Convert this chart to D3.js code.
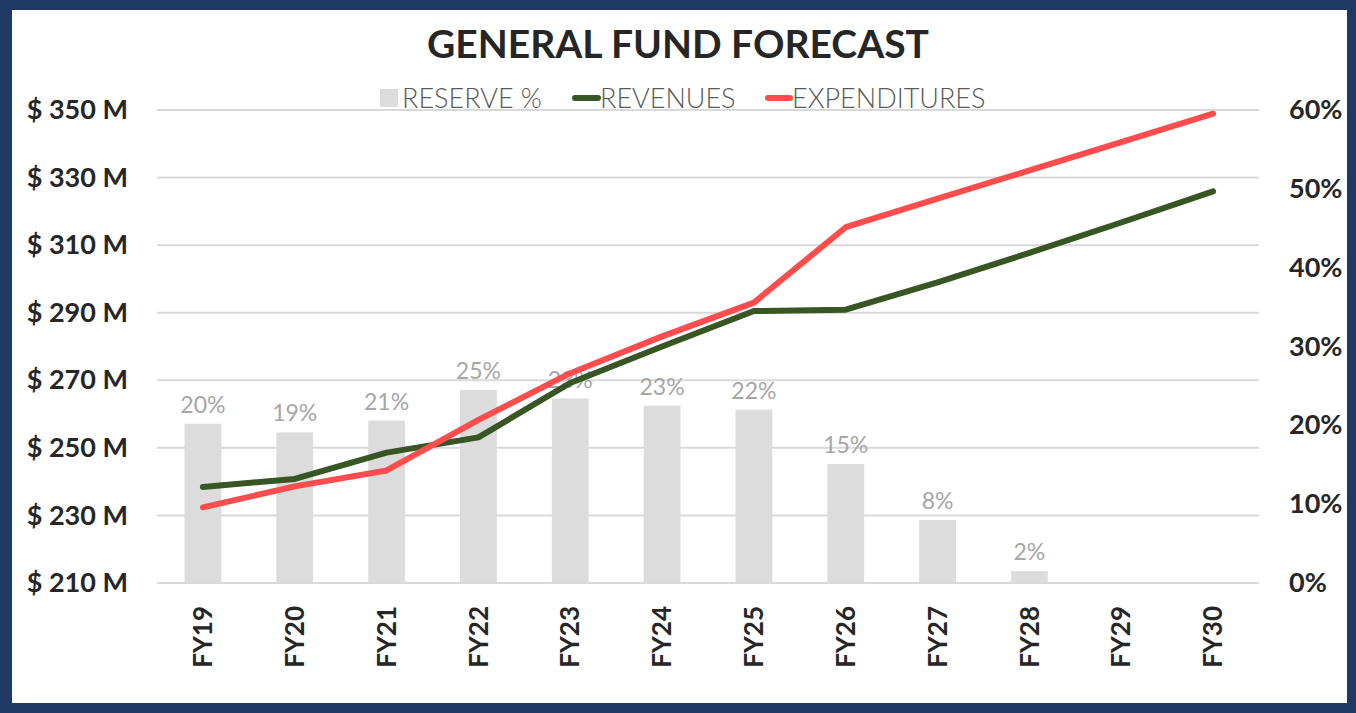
<!DOCTYPE html>
<html lang="en">
<head>
    <meta charset="UTF-8">
    <title>General Fund Forecast</title>
    <script src="https://d3js.org/d3.v7.min.js"></script>
    <style>
        body {
            margin: 0;
            background: #1f3864;
            font-family: Lato, "Open Sans", sans-serif;
        }
        text {
            font-family: Lato, "Open Sans", sans-serif;
        }
        .grid line {
            stroke: #d9d9d9;
            stroke-width: 2;
        }
        .axis text {
            fill: #262626;
            font-size: 26px;
            font-weight: 700;
        }
        .axis.y text {
            font-size: 27px;
        }
        .bar {
            fill: #dcdcdc;
        }
        .bar-label {
            fill: #a6a6a6;
            font-size: 23px;
        }
        .legend text {
            fill: #595959;
            font-size: 27px;
            font-weight: 300;
        }
    </style>
</head>
<body>
    <div id="chart"></div>

    <script>
        // data
        const years = ["FY19", "FY20", "FY21", "FY22", "FY23", "FY24", "FY25", "FY26", "FY27", "FY28", "FY29", "FY30"];
        const reserve = [0.202, 0.191, 0.206, 0.245, 0.234, 0.225, 0.220, 0.151, 0.080, 0.015, null, null];
        const revenues = [238.4, 240.8, 248.6, 253.1, 269.2, 280.0, 290.5, 290.9, 299.0, 307.7, 316.7, 325.9];
        const expenditures = [232.4, 238.6, 243.3, 258.3, 272.1, 283.0, 293.0, 315.3, 323.8, 332.1, 340.5, 348.9];
        const leftTicks = [210, 230, 250, 270, 290, 310, 330, 350];
        const rightTicks = [0, 0.1, 0.2, 0.3, 0.4, 0.5, 0.6];

        const W = 1356, H = 713;
        const svg = d3.select("#chart").append("svg")
            .attr("width", W)
            .attr("height", H);

        // navy frame
        svg.append("rect").attr("width", W).attr("height", H).attr("fill", "#1f3864");
        svg.append("rect")
            .attr("x", 12).attr("y", 10)
            .attr("width", W - 12 - 9).attr("height", H - 10 - 10)
            .attr("fill", "#ffffff");

        const plot = { left: 157, right: 1259, top: 110, bottom: 583 };

        const x = d3.scaleBand()
            .domain(years)
            .range([plot.left, plot.right])
            .paddingInner(0.6)
            .paddingOuter(0.3);

        const yL = d3.scaleLinear().domain([210, 350]).range([plot.bottom, plot.top]);
        const yR = d3.scaleLinear().domain([0, 0.6]).range([plot.bottom, plot.top]);

        // title
        svg.append("text")
            .attr("x", 678).attr("y", 58)
            .attr("text-anchor", "middle")
            .attr("fill", "#262626")
            .style("font-size", "39px")
            .style("font-weight", "700")
            .text("GENERAL FUND FORECAST");

        // gridlines
        svg.append("g")
            .attr("class", "grid")
            .selectAll("line")
            .data(leftTicks)
            .enter().append("line")
            .attr("x1", plot.left).attr("x2", plot.right)
            .attr("y1", d => yL(d)).attr("y2", d => yL(d));

        // left axis
        const gl = svg.append("g")
            .attr("class", "axis y")
            .attr("transform", `translate(${plot.left},0)`)
            .call(d3.axisLeft(yL).tickValues(leftTicks).tickSize(0).tickPadding(29).tickFormat(d => `$ ${d} M`));
        gl.select(".domain").remove();

        // right axis
        const gr = svg.append("g")
            .attr("class", "axis y")
            .attr("transform", `translate(${plot.right},0)`)
            .call(d3.axisRight(yR).tickValues(rightTicks).tickSize(0).tickPadding(30).tickFormat(d3.format(".0%")));
        gr.select(".domain").remove();

        // bottom axis, rotated labels
        const gb = svg.append("g")
            .attr("class", "axis")
            .attr("transform", `translate(0,${plot.bottom})`)
            .call(d3.axisBottom(x).tickSize(0));
        gb.select(".domain").remove();
        gb.selectAll("text")
            .attr("transform", "rotate(-90)")
            .attr("text-anchor", "end")
            .attr("x", -23)
            .attr("y", 0)
            .attr("dy", "0.35em");

        // reserve bars
        const barData = years.map((d, i) => ({ year: d, v: reserve[i] })).filter(d => d.v !== null);

        svg.selectAll(".bar")
            .data(barData)
            .enter().append("rect")
            .attr("class", "bar")
            .attr("x", d => x(d.year))
            .attr("y", d => yR(d.v))
            .attr("width", x.bandwidth())
            .attr("height", d => plot.bottom - yR(d.v));

        svg.selectAll(".bar-label")
            .data(barData)
            .enter().append("text")
            .attr("class", "bar-label")
            .attr("x", d => x(d.year) + x.bandwidth() / 2)
            .attr("y", d => yR(d.v) - 11)
            .attr("text-anchor", "middle")
            .text(d => d3.format(".0%")(d.v));

        // lines
        const cx = d => x(d) + x.bandwidth() / 2;
        const line = d3.line()
            .x((d, i) => cx(years[i]))
            .y(d => yL(d));

        svg.append("path")
            .datum(revenues)
            .attr("fill", "none")
            .attr("stroke", "#375623")
            .attr("stroke-width", 6)
            .attr("stroke-linecap", "round")
            .attr("stroke-linejoin", "round")
            .attr("d", line);

        svg.append("path")
            .datum(expenditures)
            .attr("fill", "none")
            .attr("stroke", "#ff4d4d")
            .attr("stroke-width", 6)
            .attr("stroke-linecap", "round")
            .attr("stroke-linejoin", "round")
            .attr("d", line);

        // legend
        const legend = svg.append("g").attr("class", "legend");
        legend.append("rect")
            .attr("x", 380).attr("y", 89)
            .attr("width", 18).attr("height", 18)
            .attr("fill", "#dcdcdc");
        legend.append("text").attr("x", 402).attr("y", 108).text("RESERVE %");

        legend.append("line")
            .attr("x1", 575).attr("x2", 598).attr("y1", 98).attr("y2", 98)
            .attr("stroke", "#375623").attr("stroke-width", 6).attr("stroke-linecap", "round");
        legend.append("text").attr("x", 600).attr("y", 108).text("REVENUES");

        legend.append("line")
            .attr("x1", 768).attr("x2", 790).attr("y1", 98).attr("y2", 98)
            .attr("stroke", "#ff4d4d").attr("stroke-width", 6).attr("stroke-linecap", "round");
        legend.append("text").attr("x", 792).attr("y", 108).text("EXPENDITURES");
    </script>
</body>
</html>
